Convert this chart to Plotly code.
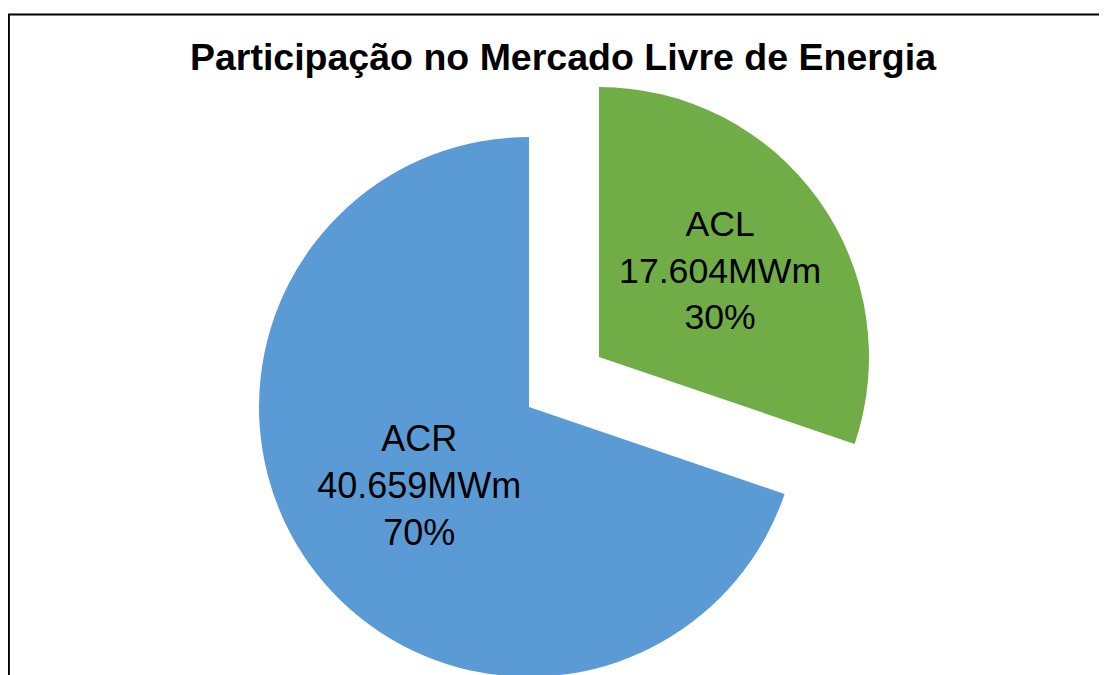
import plotly.graph_objects as go

# ---- data ----
labels = ["ACL", "ACR"]
values_mwm = [17604, 40659]
colors = ["#70AD47", "#5B9BD5"]
title_text = "Participação no Mercado Livre de Energia"

W, H = 1107, 675
OFF = 8  # the page body margin shifts the figure by 8px
FONT = "Liberation Sans, Arial, sans-serif"

total = sum(values_mwm)


def fmt_thousands(v):
    return f"{v:,}".replace(",", ".")


slice_text = [
    f"{lab}<br>{fmt_thousands(v)}MWm<br>{round(v / total * 100)}%"
    for lab, v in zip(labels, values_mwm)
]


def px_domain(cx, cy, r):
    cx -= OFF
    cy -= OFF
    return dict(
        x=[(cx - r) / W, (cx + r) / W],
        y=[max(0.0, 1 - (cy + r) / H), min(1.0, 1 - (cy - r) / H)],
    )


fig = go.Figure()

# exploded pie: the pulled-out slice (ACL) and the main slice (ACR) are drawn
# as two pies; the other slice is transparent in each
r = 270
for idx, (cx, cy) in enumerate([(599, 357), (529, 407)]):
    cols = ["rgba(0,0,0,0)"] * len(labels)
    cols[idx] = colors[idx]
    txt = [""] * len(labels)
    txt[idx] = slice_text[idx]
    fig.add_trace(
        go.Pie(
            labels=labels,
            values=values_mwm,
            sort=False,
            direction="clockwise",
            rotation=0,
            marker=dict(colors=cols, line=dict(width=0)),
            text=txt,
            textinfo="text",
            textposition="inside",
            insidetextorientation="horizontal",
            textfont=dict(family=FONT, size=36, color="black"),
            hoverinfo="label+value+percent",
            showlegend=False,
            domain=px_domain(cx, cy, r),
        )
    )

fig.update_layout(
    width=W,
    height=H,
    margin=dict(l=0, r=0, t=0, b=0),
    paper_bgcolor="white",
    plot_bgcolor="white",
    title=dict(
        text=f"<b>{title_text}</b>",
        font=dict(family=FONT, size=37.5, color="black"),
        x=(563 - OFF) / W,
        xanchor="center",
        y=1 - (57 - OFF) / H,
        yanchor="middle",
    ),
    shapes=[
        dict(
            type="rect",
            xref="paper",
            yref="paper",
            x0=(8 - OFF) / W + 0.0008,
            x1=1.05,
            y0=-0.05,
            y1=1 - (14.5 - OFF) / H,
            line=dict(color="black", width=2),
            fillcolor="rgba(0,0,0,0)",
            layer="above",
        )
    ],
)

fig.write_html("out.html")
